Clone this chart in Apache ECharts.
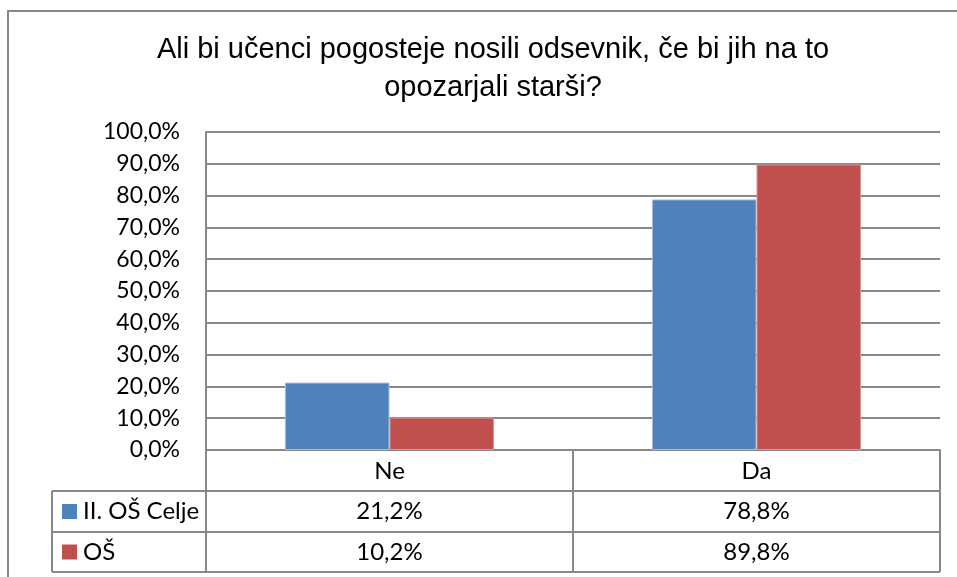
<!DOCTYPE html>
<html>
<head>
<meta charset="utf-8">
<script src="https://cdn.jsdelivr.net/npm/echarts@6/dist/echarts.min.js"></script>
<style>
html, body { margin: 0; padding: 0; background: #fff; }
#chart { width: 957px; height: 577px; }
</style>
</head>
<body>
<div id="chart"></div>
<script>
// podatki
const categories = ['Ne', 'Da'];
const seriesNames = ['II. OŠ Celje', 'OŠ'];
const celje = [21.2, 78.8];
const os = [10.2, 89.8];
const colors = ['#4F81BD', '#C0504D'];

const labelFont = 'Lato, "Noto Sans", sans-serif';
const lineColor = '#888888';

const fmt = v => v.toFixed(1).replace('.', ',') + '%';

const chart = echarts.init(document.getElementById('chart'));

const option = {
	animation: false,
	backgroundColor: '#fff',
	title: {
		text: 'Ali bi učenci pogosteje nosili odsevnik, če bi jih na to\nopozarjali starši?',
		left: 488,
		top: 26,
		textAlign: 'center',
		textStyle: {
			fontFamily: '"Liberation Sans", Arial, sans-serif',
			fontWeight: 'normal',
			fontSize: 29,
			lineHeight: 38,
			color: '#000'
		}
	},
	grid: {
		left: 206,
		right: 17,
		top: 132,
		bottom: 127,
		containLabel: false
	},
	xAxis: {
		type: 'category',
		data: categories,
		axisLine: { lineStyle: { color: lineColor, width: 2 } },
		axisTick: {
			show: true,
			inside: false,
			length: 41,
			lineStyle: { color: lineColor, width: 2 }
		},
		axisLabel: {
			margin: 9,
			fontFamily: labelFont,
			fontSize: 24,
			color: '#000'
		}
	},
	yAxis: {
		type: 'value',
		min: 0,
		max: 100,
		interval: 10,
		axisLine: { show: true, lineStyle: { color: lineColor, width: 2 } },
		axisTick: { show: false },
		splitLine: { lineStyle: { color: lineColor, width: 2 } },
		axisLabel: {
			margin: 26,
			fontFamily: labelFont,
			fontSize: 23,
			color: '#000',
			formatter: v => fmt(v)
		}
	},
	series: [
		{
			name: seriesNames[0],
			type: 'bar',
			data: celje,
			barGap: '0%',
			barCategoryGap: '43%',
			itemStyle: { color: colors[0], borderColor: '#A7C0DE', borderWidth: 1 }
		},
		{
			name: seriesNames[1],
			type: 'bar',
			data: os,
			itemStyle: { color: colors[1], borderColor: '#D99694', borderWidth: 1 }
		}
	]
};
chart.setOption(option);

// tabela s podatki pod grafom
const tableLeft = 52;
const rowTops = [491, 532, 572];
const plotLeft = 206;
const bounds = [plotLeft];
categories.forEach((c, i) => {
	const cx = chart.convertToPixel({ xAxisIndex: 0 }, c);
	bounds.push(2 * cx - bounds[i]);
});
const tableRight = bounds[bounds.length - 1];

const graphic = [];
// okvir celotnega grafa
graphic.push({
	type: 'rect',
	shape: { x: 8, y: 11, width: 980, height: 600 },
	style: { fill: 'none', stroke: '#878787', lineWidth: 2 },
	z: 0
});
rowTops.forEach(y => {
	graphic.push({
		type: 'line',
		shape: { x1: tableLeft, y1: y, x2: tableRight, y2: y },
		style: { stroke: lineColor, lineWidth: 2 }
	});
});
[tableLeft].concat(bounds).forEach(x => {
	graphic.push({
		type: 'line',
		shape: { x1: x, y1: rowTops[0], x2: x, y2: rowTops[rowTops.length - 1] },
		style: { stroke: lineColor, lineWidth: 2 }
	});
});
const rows = [celje, os];
rows.forEach((vals, r) => {
	const cy = (rowTops[r] + rowTops[r + 1]) / 2;
	graphic.push({
		type: 'rect',
		shape: { x: 62, y: cy - 7.5, width: 15, height: 15 },
		style: { fill: colors[r] }
	});
	graphic.push({
		type: 'text',
		x: 83,
		y: cy,
		style: {
			text: seriesNames[r],
			fontFamily: labelFont,
			fontSize: 24,
			fill: '#000',
			verticalAlign: 'middle'
		}
	});
	vals.forEach((v, i) => {
		graphic.push({
			type: 'text',
			x: chart.convertToPixel({ xAxisIndex: 0 }, categories[i]),
			y: cy,
			style: {
				text: fmt(v),
				fontFamily: labelFont,
				fontSize: 24,
				fill: '#000',
				align: 'center',
				verticalAlign: 'middle'
			}
		});
	});
});
chart.setOption({ graphic: graphic });
</script>
</body>
</html>
